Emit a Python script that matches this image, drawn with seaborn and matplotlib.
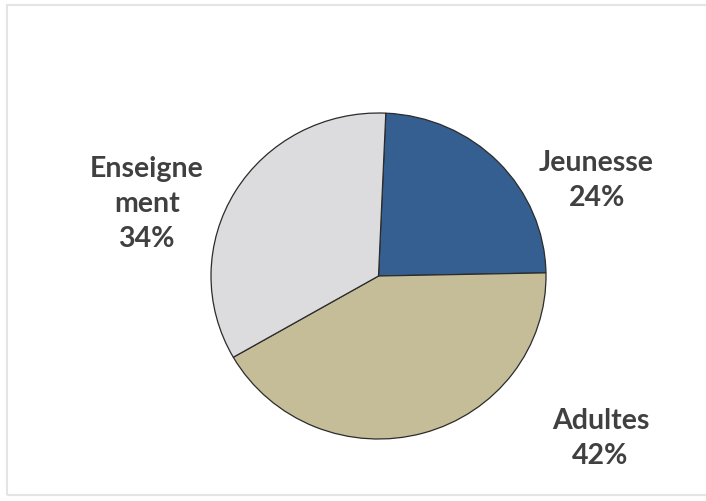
import matplotlib
matplotlib.use("Agg")
import matplotlib.pyplot as plt
import seaborn as sns
from matplotlib.patches import Rectangle

categories = ["Jeunesse", "Adultes", "Enseigne\nment"]
shares = [24, 42, 34]
colors = ["#365F91", "#C4BD97", "#DCDCDE"]

sns.set_theme(style="white")
plt.rcParams['font.family'] = ['Lato', 'DejaVu Sans']

fig = plt.figure(figsize=(7.06, 5.02), dpi=100)
ax = fig.add_axes([0, 0, 1, 1])

wedges, texts = ax.pie(shares, colors=colors, startangle=87.5, counterclock=False,
                       labels=[f"{c}\n{v}%" for c, v in zip(categories, shares)],
                       wedgeprops=dict(edgecolor="#2b2b2b", linewidth=0.9),
                       textprops=dict(fontsize=20.5, fontweight="bold", color="#404040",
                                      ha="center", va="center", linespacing=1.42))
ax.set_aspect("auto")
# pixel scale: ~167.5 px per unit horizontally, ~163 px vertically, center at (378.5, 277)
ax.set_xlim(-378.5 / 167.5, (706 - 378.5) / 167.5)
ax.set_ylim(-(502 - 277) / 163, 277 / 163)

# label placement (outside the pie, like the original)
label_pos = [(1.302, 0.59), (1.325, -0.99), (-1.384, 0.448)]
for t, (x, y) in zip(texts, label_pos):
    t.set_position((x, y))
    t.set_ha("center")
    t.set_va("center")

ax.axis("off")

# light grey frame around the picture
fig.patches.append(Rectangle((7 / 706, 1 - 496 / 502), 1.2, (496 - 6) / 502,
                             transform=fig.transFigure, fill=False,
                             edgecolor="#E4E4E4", linewidth=1.5))

fig.savefig("out.png", dpi=100, facecolor="white")
